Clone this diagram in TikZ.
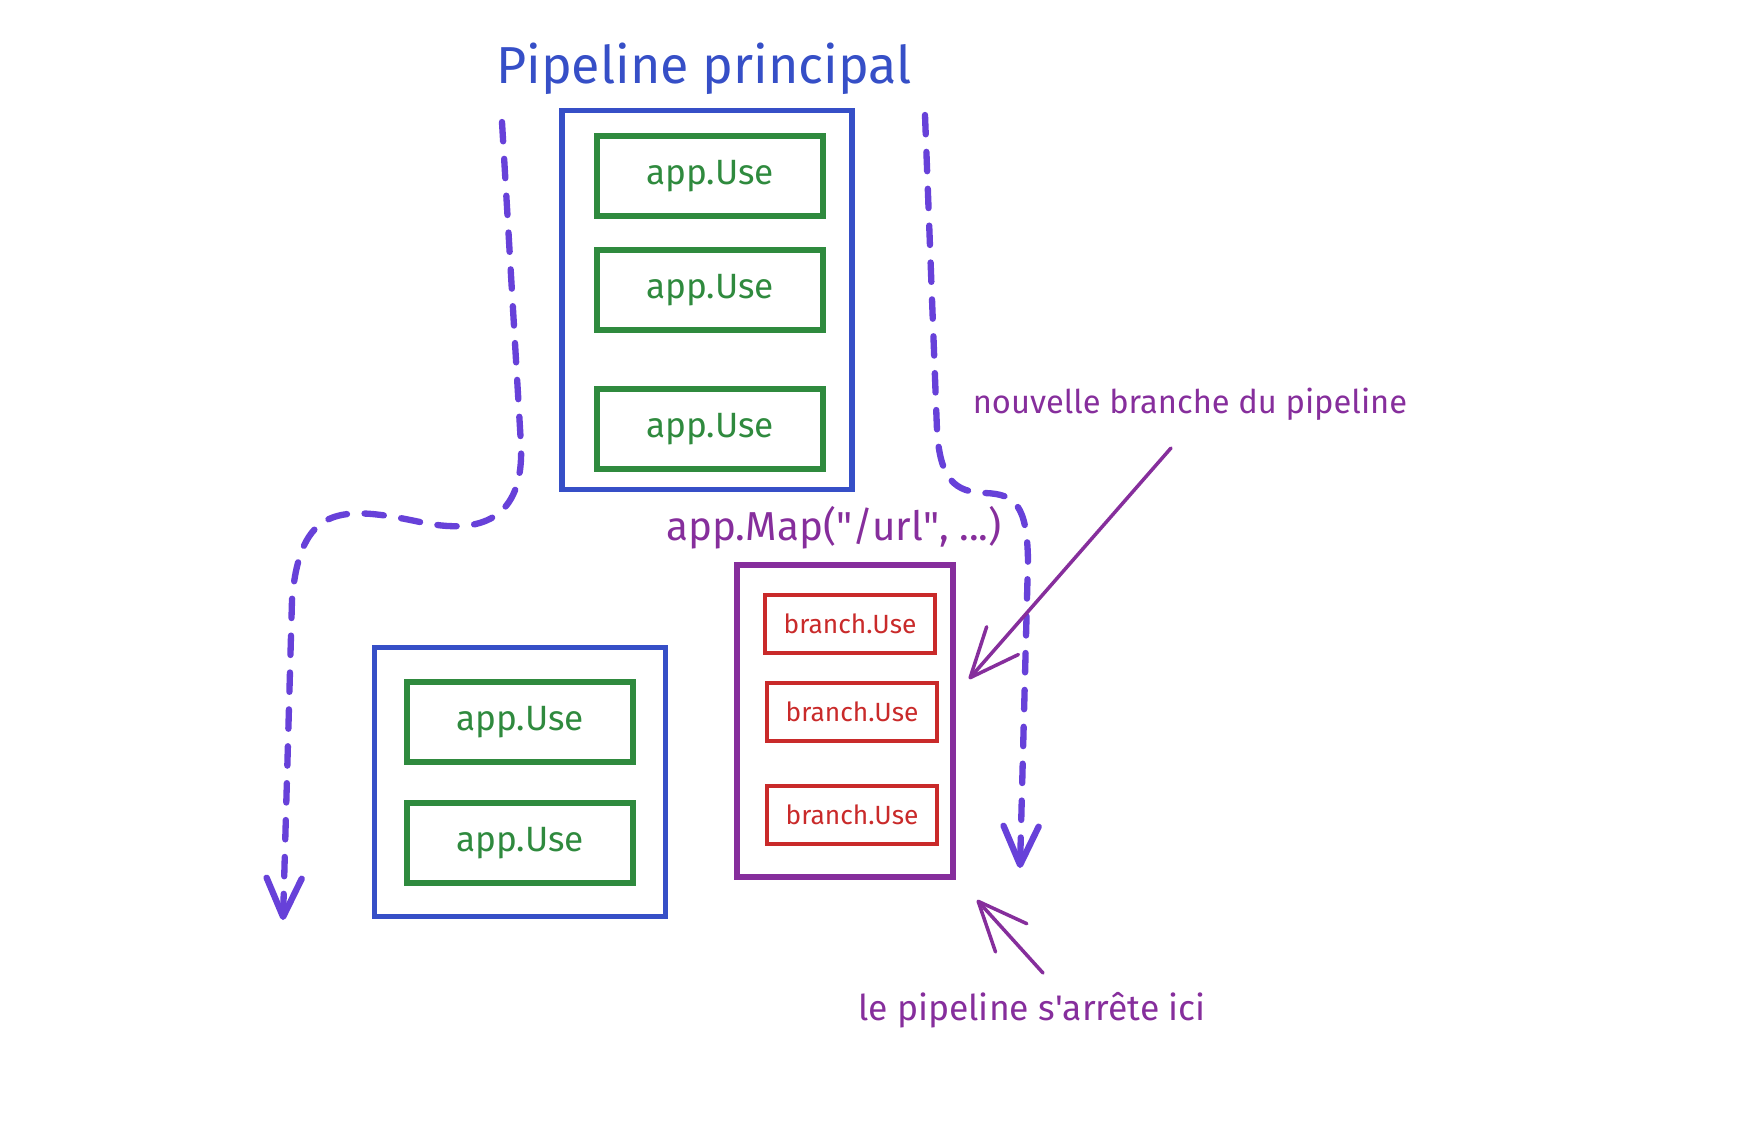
\documentclass[tikz,border=0pt]{standalone}
\usepackage{fontspec}
\setmainfont{Fira Sans}
\usetikzlibrary{arrows.meta}
\definecolor{indigo}{RGB}{54,79,199}
\definecolor{leaf}{RGB}{47,138,62}
\definecolor{brick}{RGB}{201,42,42}
\definecolor{grape}{RGB}{134,46,156}
\definecolor{flowviolet}{RGB}{103,65,217}
\begin{document}
\begin{tikzpicture}[x=0.1mm,y=-0.1mm,
  stage/.style={draw=indigo,line width=1.5pt,inner sep=0pt},
  mapstage/.style={draw=grape,line width=1.5pt,inner sep=0pt},
  use/.style={draw=leaf,line width=1.5pt,text=leaf,minimum width=22.6mm,minimum height=8mm,font=\fontsize{10}{12}\selectfont},
  branchuse/.style={draw=brick,line width=1.4pt,text=brick,minimum width=17mm,minimum height=5.8mm,font=\fontsize{7.5}{9}\selectfont},
  flow/.style={flowviolet,line width=1.8pt,line cap=round,dash pattern=on 5.5pt off 5pt,-{Straight Barb[round,length=11pt,width=10pt]}},
  note/.style={grape,line width=1pt,line cap=round,-{Straight Barb[round,length=14pt,width=12pt]}}]
\useasboundingbox (0,0) rectangle (1758,1138);
\node[anchor=base,text=indigo,font=\fontsize{14.8}{18}\selectfont] at (704,83) (title) {Pipeline principal};
\node[stage,minimum width=29mm,minimum height=37.9mm] at (707,300) (main) {};
\node[use] at (710,176) (u1) {app.Use};
\node[use] at (710,290) (u2) {app.Use};
\node[use] at (710,429) (u3) {app.Use};
\node[stage,minimum width=29.1mm,minimum height=26.9mm] at (520,782) (rest) {};
\node[use] at (520,722) (u4) {app.Use};
\node[use] at (520,843) (u5) {app.Use};
\node[text=grape,font=\fontsize{11.5}{14}\selectfont] at (834,528) (maplabel) {app.Map(\textquotedbl/url\textquotedbl, ...)};
\node[mapstage,minimum width=21.6mm,minimum height=31.2mm] at (845,721) (map) {};
\node[branchuse] at (850,624) (b1) {branch.Use};
\node[branchuse] at (852,712) (b2) {branch.Use};
\node[branchuse] at (852,815) (b3) {branch.Use};
\node[anchor=base,text=grape,font=\fontsize{9.3}{12}\selectfont] at (1190,413) (newbranch) {nouvelle branche du pipeline};
\node[anchor=base,text=grape,font=\fontsize{10.1}{13}\selectfont] at (1032,1020) (stophere) {le pipeline s\textquotesingle arrête ici};
\coordinate (lstart) at (502,122);
\coordinate (lend) at (283,920);
\coordinate (rstart) at (925,115);
\coordinate (rend) at (1020,868);
\coordinate (nbfrom) at (1171,448);
\coordinate (nbto) at (969,679);
\coordinate (shfrom) at (1043,973);
\coordinate (shto) at (977,900);
\draw[flow] (lstart) -- (521,445) .. controls (524,520) and (480,535) .. (420,522) .. controls (340,505) and (300,505) .. (292,600) -- (lend);
\draw[flow] (rstart) -- (937,430) .. controls (940,480) and (955,492) .. (985,493) .. controls (1015,494) and (1027,505) .. (1028,560) -- (rend);
\draw[note] (nbfrom) -- (nbto);
\draw[note] (shfrom) -- (shto);
\end{tikzpicture}
\end{document}
